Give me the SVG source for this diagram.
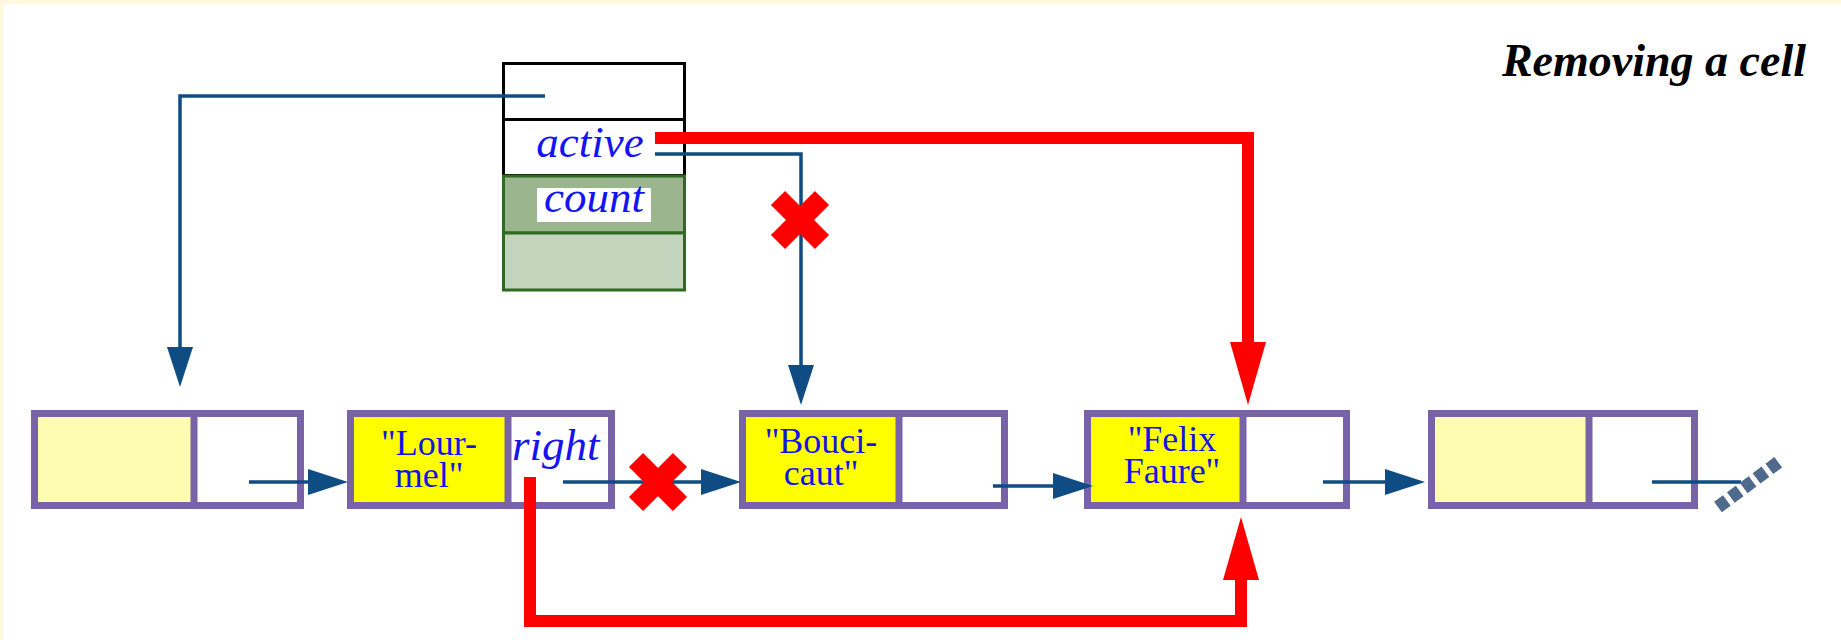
<svg xmlns="http://www.w3.org/2000/svg" width="1841" height="640" viewBox="0 0 1841 640">
<style>
.cellbox{fill:none;stroke:#7862A8;stroke-width:7}
.div{stroke:#7862A8;stroke-width:7}
.lt{fill:#FDFDB2}
.yl{fill:#FFFF00}
.wh{fill:#FFFFFF}
.ctext{font-family:"Liberation Serif",serif;font-size:36px;fill:#1414E6;text-anchor:middle}
.itext{font-family:"Liberation Serif",serif;font-style:italic;font-size:45px;fill:#1414F0}
.blue{fill:none;stroke:#0F4C84;stroke-width:3.5}
.red{fill:none;stroke:#FF0000;stroke-width:12}
.cross{stroke:#FF0000;stroke-width:20}
</style>
<defs>
<marker id="ab" markerUnits="userSpaceOnUse" markerWidth="42" markerHeight="28" refX="0" refY="13" orient="auto">
<path d="M0,0 L40,13 L0,26 Z" fill="#0F4C84"/>
</marker>
<marker id="ar" markerUnits="userSpaceOnUse" markerWidth="66" markerHeight="38" refX="0" refY="18" orient="auto">
<path d="M0,0 L63,18 L0,36 Z" fill="#FF0000"/>
</marker>
</defs>
<rect x="0" y="0" width="1841" height="640" fill="#FFF8DC"/>
<rect x="3" y="4" width="1838" height="636" fill="#FFFFFF"/>
<text x="1806" y="76" font-family="'Liberation Serif',serif" font-size="46" font-weight="bold" font-style="italic" text-anchor="end" fill="#000000">Removing a cell</text>
<g id="object">
<rect x="503.5" y="63.5" width="181" height="56" fill="#FFFFFF" stroke="#000000" stroke-width="3"/>
<rect x="503.5" y="119.5" width="181" height="56" fill="#FFFFFF" stroke="#000000" stroke-width="3"/>
<rect x="503.5" y="176" width="181" height="57" fill="#9BB58F" stroke="#2E6B20" stroke-width="3"/>
<rect x="503.5" y="233" width="181" height="57" fill="#C2D4BC" stroke="#2E6B20" stroke-width="3"/>
<text class="itext" x="590" y="157" text-anchor="middle">active</text>
<rect x="537" y="188" width="114" height="34" fill="#FFFFFF"/>
<text class="itext" x="594" y="212" text-anchor="middle">count</text>
</g>
<g id="cell1">
<rect class="lt" x="34.5" y="413.5" width="159.5" height="92"/>
<rect class="wh" x="194" y="413.5" width="106.5" height="92"/>
<rect class="cellbox" x="34.5" y="413.5" width="266" height="92"/>
<line class="div" x1="194" y1="413.5" x2="194" y2="505.5"/>
</g>
<g id="cell2">
<rect class="yl" x="350.5" y="413.5" width="157.5" height="92"/>
<rect class="wh" x="508" y="413.5" width="103.5" height="92"/>
<rect class="cellbox" x="350.5" y="413.5" width="261" height="92"/>
<line class="div" x1="508" y1="413.5" x2="508" y2="505.5"/>
<text class="ctext"><tspan x="429" y="455">"Lour-</tspan><tspan x="429" y="487">mel"</tspan></text>
<text class="itext" x="512" y="460">right</text>
</g>
<g id="cell3">
<rect class="yl" x="742.5" y="413.5" width="156.5" height="92"/>
<rect class="wh" x="899" y="413.5" width="105.5" height="92"/>
<rect class="cellbox" x="742.5" y="413.5" width="262" height="92"/>
<line class="div" x1="899" y1="413.5" x2="899" y2="505.5"/>
<text class="ctext"><tspan x="821" y="453">"Bouci-</tspan><tspan x="821" y="485">caut"</tspan></text>
</g>
<g id="cell4">
<rect class="yl" x="1087.5" y="413.5" width="155.5" height="92"/>
<rect class="wh" x="1243" y="413.5" width="103.5" height="92"/>
<rect class="cellbox" x="1087.5" y="413.5" width="259" height="92"/>
<line class="div" x1="1243" y1="413.5" x2="1243" y2="505.5"/>
<text class="ctext"><tspan x="1172" y="451">"Felix</tspan><tspan x="1172" y="483">Faure"</tspan></text>
</g>
<g id="cell5">
<rect class="lt" x="1431.5" y="413.5" width="157.5" height="92"/>
<rect class="wh" x="1589" y="413.5" width="105.5" height="92"/>
<rect class="cellbox" x="1431.5" y="413.5" width="263" height="92"/>
<line class="div" x1="1589" y1="413.5" x2="1589" y2="505.5"/>
</g>
<g id="connectors">
<path class="blue" d="M545,96 H180 V347" marker-end="url(#ab)"/>
<path class="blue" d="M655,154 H801 V365" marker-end="url(#ab)"/>
<path class="red" d="M655,138 H1248 V342" marker-end="url(#ar)"/>
<path class="red" d="M530,477 V621 H1241 V580" marker-end="url(#ar)"/>
<path class="blue" d="M249,482 H308" marker-end="url(#ab)"/>
<path class="blue" d="M563,482 H701" marker-end="url(#ab)"/>
<path class="blue" d="M993,486 H1053" marker-end="url(#ab)"/>
<path class="blue" d="M1323,482 H1385" marker-end="url(#ab)"/>
<path class="blue" d="M1652,482 H1741"/>
<line x1="1718" y1="507" x2="1780" y2="461" stroke="#4F6A8C" stroke-width="13" stroke-dasharray="11 5"/>
</g>
<g id="crosses">
<g transform="translate(800,220)"><line class="cross" x1="-22" y1="-22" x2="22" y2="22"/><line class="cross" x1="22" y1="-22" x2="-22" y2="22"/></g>
<g transform="translate(658,482)"><line class="cross" x1="-22" y1="-22" x2="22" y2="22"/><line class="cross" x1="22" y1="-22" x2="-22" y2="22"/></g>
</g>
</svg>
